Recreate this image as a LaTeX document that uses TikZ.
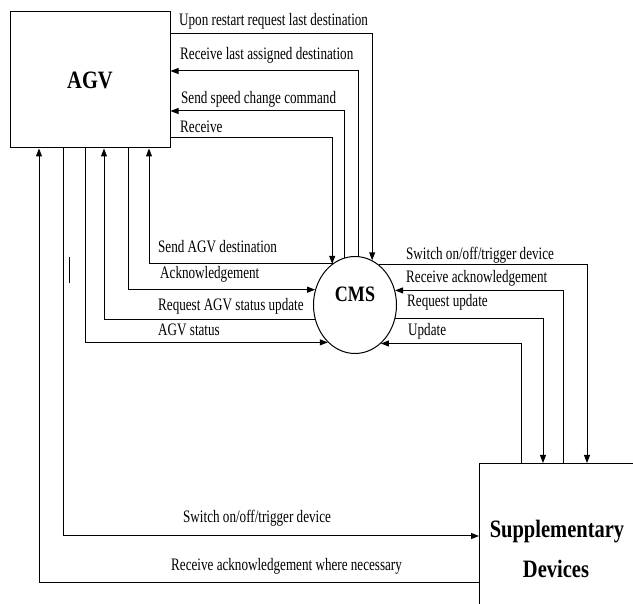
\documentclass[tikz,border=0pt]{standalone}
\usepackage{fontspec}
\setmainfont{Liberation Serif}[FakeStretch=0.82]
\newfontfamily\lblfont{Liberation Serif}[FakeStretch=0.75]
\usetikzlibrary{arrows.meta,shapes.geometric}
\tikzset{
  arr/.style={line width=1pt,-{Triangle[length=8pt,width=6pt]}},
  ln/.style={line width=1pt},
  lbl/.style={anchor=base west,inner sep=0pt,font=\lblfont\fontsize{17.5}{21}\selectfont},
  big/.style={inner sep=0pt,font=\fontsize{25}{30}\selectfont\bfseries},
  box/.style={draw,line width=1pt,rectangle,inner sep=0pt}
}
\begin{document}
\begin{tikzpicture}[x=1pt,y=-1pt]
\clip (0,0) rectangle (633,604);
\useasboundingbox (0,0) rectangle (633,604);
% main entities
\node[box,minimum width=160,minimum height=136,font=\fontsize{25}{30}\selectfont\bfseries] (agv) at (90,80) {AGV};
\node[draw,line width=1pt,ellipse,minimum width=83,minimum height=97,inner sep=0pt] (cms) at (355,305) {};
\node[big,anchor=base] (cmst) at (355,302) {\fontsize{22}{26}\selectfont CMS};
\node[box,minimum width=220,minimum height=200,anchor=north west] (supp) at (479,463) {};
\node[big,anchor=base] (suppt1) at (557,537) {Supplementary};
\node[big,anchor=base] (suppt2) at (556,577) {Devices};
% AGV right side <-> CMS top
\draw[arr] (agv.east |- 0,34) -| (cms.69);
\draw[arr] (cms.86.5) |- (agv.east |- 0,71);
\draw[arr] (cms.103.2) |- (agv.east |- 0,111);
\draw[arr] (agv.east |- 0,138) -| (cms.119.7);
% AGV bottom <-> CMS left
\draw[arr] (cms.118.4) -| (agv.south -| 149,0);
\draw[arr] (agv.south -| 128,0) |- (cms.159.2);
\draw[arr] (cms.200.8) -| (agv.south -| 104,0);
\draw[arr] (agv.south -| 85,0) |- (cms.234.1);
% CMS right <-> Supplementary top
\draw[arr] (cms.59.6) -| (supp.north -| 587,0);
\draw[arr] (supp.north -| 563,0) |- (cms.20.8);
\draw[arr] (cms.342) -| (supp.north -| 543,0);
\draw[arr] (supp.north -| 521,0) |- (cms.304.2);
% AGV <-> Supplementary
\draw[arr] (agv.south -| 63,0) |- (supp.west |- 0,536);
\draw[arr] (supp.west |- 0,583) -| (agv.south -| 39,0);
% stray tick
\draw[ln] (69,257) -- (69,283);
% labels
\node[lbl] (t1) at (179,26) {Upon restart request last destination};
\node[lbl] (t2) at (180,60) {Receive last assigned destination};
\node[lbl] (t3) at (181,104) {Send speed change command};
\node[lbl] (t4) at (180,133) {Receive};
\node[lbl] (l1) at (158,253) {Send AGV destination};
\node[lbl] (l2) at (160,279) {Acknowledgement};
\node[lbl] (l3) at (158,311) {Request AGV status update};
\node[lbl] (l4) at (158,336) {AGV status};
\node[lbl] (r1) at (406,260) {Switch on/off/trigger device};
\node[lbl] (r2) at (406,283) {Receive acknowledgement};
\node[lbl] (r3) at (407,307) {Request update};
\node[lbl] (r4) at (408,336) {Update};
\node[lbl] (b1) at (183,522) {Switch on/off/trigger device};
\node[lbl] (b2) at (171,570) {Receive acknowledgement where necessary};
\end{tikzpicture}
\end{document}
